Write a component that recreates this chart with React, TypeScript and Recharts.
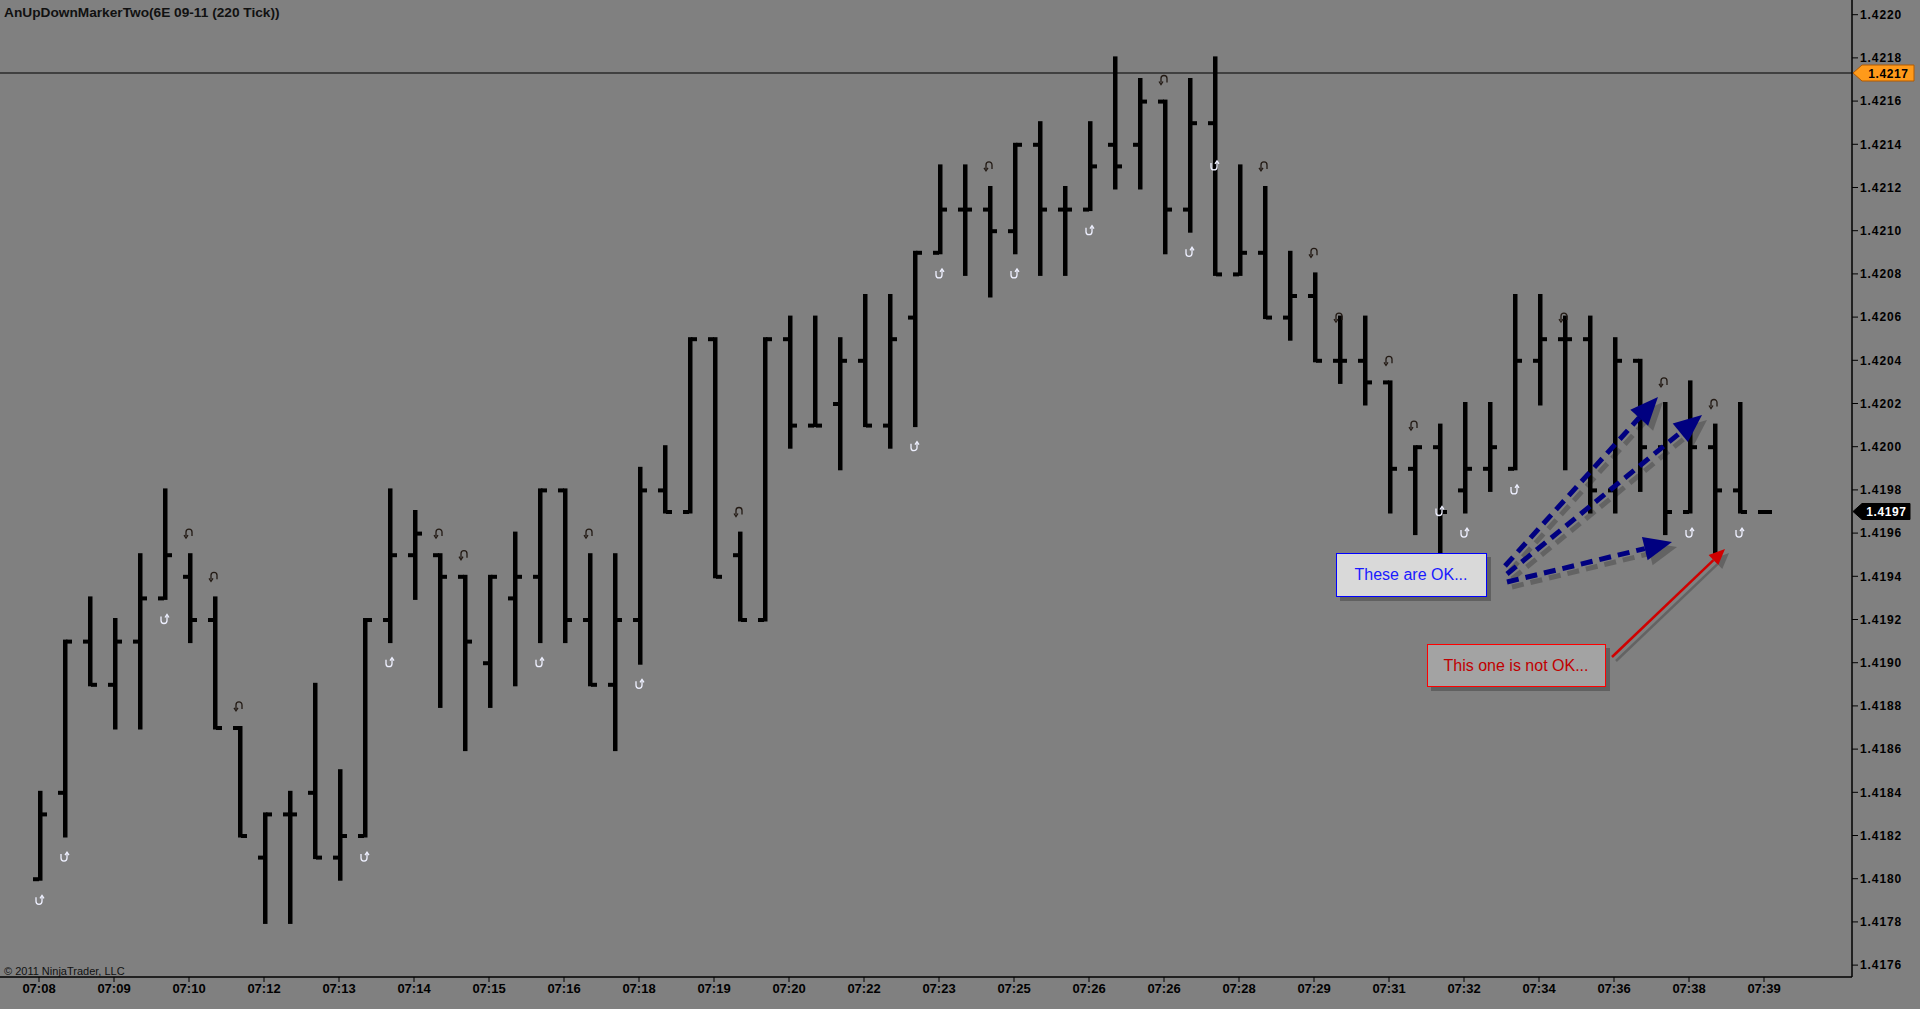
import React from "react";
import {
  ComposedChart,
  Bar,
  Scatter,
  XAxis,
  YAxis,
  ReferenceLine,
} from "recharts";

// x axis labels, one every third bar
const timeLabels = [
  "07:08", "07:09", "07:10", "07:12", "07:13", "07:14", "07:15", "07:16",
  "07:18", "07:19", "07:20", "07:22", "07:23", "07:25", "07:26", "07:26",
  "07:28", "07:29", "07:31", "07:32", "07:34", "07:36", "07:38", "07:39",
];

// 6E 09-11, 220 tick bars
const opens = [
  1.4180, 1.4184, 1.4191, 1.4189, 1.4191, 1.4193, 1.4194, 1.4192, 1.4187, 1.4181,
  1.4183, 1.4184, 1.4181, 1.4182, 1.4192, 1.4195, 1.4195, 1.4194, 1.4190, 1.4193,
  1.4194, 1.4198, 1.4192, 1.4189, 1.4192, 1.4198, 1.4197, 1.4205, 1.4195, 1.4192,
  1.4205, 1.4201, 1.4202, 1.4204, 1.4201, 1.4206, 1.4209, 1.4211, 1.4211, 1.4210,
  1.4214, 1.4211, 1.4211, 1.4214, 1.4214, 1.4216, 1.4211, 1.4215, 1.4208, 1.4209,
  1.4206, 1.4207, 1.4204, 1.4204, 1.4203, 1.4199, 1.4200, 1.4198, 1.4199, 1.4199,
  1.4204, 1.4205, 1.4205, 1.4198, 1.4204, 1.4200, 1.4197, 1.4200, 1.4198, 1.4197,
];
const highs = [
  1.4184, 1.4191, 1.4193, 1.4192, 1.4195, 1.4198, 1.4195, 1.4193, 1.4187, 1.4183,
  1.4184, 1.4189, 1.4185, 1.4192, 1.4198, 1.4197, 1.4195, 1.4194, 1.4194, 1.4196,
  1.4198, 1.4198, 1.4195, 1.4195, 1.4199, 1.4200, 1.4205, 1.4205, 1.4196, 1.4205,
  1.4206, 1.4206, 1.4205, 1.4207, 1.4207, 1.4209, 1.4213, 1.4213, 1.4212, 1.4214,
  1.4215, 1.4212, 1.4215, 1.4218, 1.4217, 1.4216, 1.4217, 1.4218, 1.4213, 1.4212,
  1.4209, 1.4208, 1.4206, 1.4206, 1.4203, 1.4200, 1.4201, 1.4202, 1.4202, 1.4207,
  1.4207, 1.4206, 1.4206, 1.4205, 1.4204, 1.4202, 1.4203, 1.4201, 1.4202, 1.4197,
];
const lows = [
  1.4180, 1.4182, 1.4189, 1.4187, 1.4187, 1.4193, 1.4191, 1.4187, 1.4182, 1.4178,
  1.4178, 1.4181, 1.4180, 1.4182, 1.4191, 1.4193, 1.4188, 1.4186, 1.4188, 1.4189,
  1.4191, 1.4191, 1.4189, 1.4186, 1.4190, 1.4197, 1.4197, 1.4194, 1.4192, 1.4192,
  1.4200, 1.4201, 1.4199, 1.4201, 1.4200, 1.4201, 1.4209, 1.4208, 1.4207, 1.4209,
  1.4208, 1.4208, 1.4211, 1.4212, 1.4212, 1.4209, 1.4210, 1.4208, 1.4208, 1.4206,
  1.4205, 1.4204, 1.4203, 1.4202, 1.4197, 1.4196, 1.4195, 1.4197, 1.4198, 1.4199,
  1.4202, 1.4199, 1.4197, 1.4197, 1.4198, 1.4196, 1.4197, 1.4195, 1.4197, 1.4197,
];
const closes = [
  1.4183, 1.4191, 1.4189, 1.4191, 1.4193, 1.4195, 1.4192, 1.4187, 1.4182, 1.4183,
  1.4183, 1.4181, 1.4182, 1.4192, 1.4195, 1.4196, 1.4194, 1.4191, 1.4194, 1.4194,
  1.4198, 1.4192, 1.4189, 1.4192, 1.4198, 1.4197, 1.4205, 1.4194, 1.4192, 1.4205,
  1.4201, 1.4201, 1.4204, 1.4201, 1.4205, 1.4209, 1.4211, 1.4211, 1.4210, 1.4214,
  1.4211, 1.4211, 1.4213, 1.4213, 1.4216, 1.4211, 1.4215, 1.4208, 1.4209, 1.4206,
  1.4207, 1.4204, 1.4204, 1.4203, 1.4199, 1.4200, 1.4197, 1.4199, 1.4200, 1.4204,
  1.4205, 1.4205, 1.4198, 1.4204, 1.4200, 1.4197, 1.4200, 1.4198, 1.4197, 1.4197,
];

// AnUpDownMarkerTwo output: [bar number (1-based), price]
const upMarkers = [
  [1, 1.4179], [2, 1.4181], [6, 1.4192], [14, 1.4181], [15, 1.4190], [21, 1.4190],
  [25, 1.4189], [36, 1.4200], [37, 1.4208], [40, 1.4208], [43, 1.4210], [47, 1.4209],
  [48, 1.4213], [57, 1.4197], [58, 1.4196], [60, 1.4198], [67, 1.4196], [69, 1.4196],
];
const downMarkers = [
  [7, 1.4196], [8, 1.4194], [9, 1.4188], [17, 1.4196], [18, 1.4195], [23, 1.4196],
  [29, 1.4197], [39, 1.4213], [46, 1.4217], [50, 1.4213], [52, 1.4209], [53, 1.4206],
  [55, 1.4204], [56, 1.4201], [62, 1.4206], [66, 1.4203], [68, 1.4202],
];

const priceTicks = [
  1.4176, 1.4178, 1.418, 1.4182, 1.4184, 1.4186, 1.4188, 1.419, 1.4192, 1.4194,
  1.4196, 1.4198, 1.42, 1.4202, 1.4204, 1.4206, 1.4208, 1.421, 1.4212, 1.4214,
  1.4216, 1.4218, 1.422,
];

const horizontalLine = 1.42173;
const lastPrice = 1.4197;

const upMap = new Map(upMarkers.map(([b, p]) => [b - 1, p]));
const downMap = new Map(downMarkers.map(([b, p]) => [b - 1, p]));

const data = opens.map((o, i) => ({
  idx: i,
  range: [lows[i], highs[i]],
  open: o,
  high: highs[i],
  low: lows[i],
  close: closes[i],
  up: upMap.has(i) ? upMap.get(i) : null,
  down: downMap.has(i) ? downMap.get(i) : null,
}));

const FONT = "'Liberation Sans', Arial, sans-serif";

const OhlcBar = (props: any) => {
  const { x, y, width, height, payload } = props;
  if (x == null || y == null || !payload) return <g />;
  const cx = Math.round(x + width / 2);
  const h = height || 0;
  const top = Math.min(y, y + h);
  const bot = Math.max(y, y + h);
  const span = payload.high - payload.low;
  if (span <= 0 || bot - top < 1) {
    // flat bar (last one, still forming)
    return <rect x={cx - 7} y={top - 1.5} width={14} height={4} fill="#000" />;
  }
  const k = (bot - top) / span;
  const yo = top + (payload.high - payload.open) * k;
  const yc = top + (payload.high - payload.close) * k;
  return (
    <g fill="#000">
      <rect x={cx - 2} y={top - 1.5} width={4.5} height={bot - top + 3.5} />
      <rect x={cx - 7} y={yo - 1.5} width={6} height={4} />
      <rect x={cx + 1} y={yc - 1.5} width={6} height={4} />
    </g>
  );
};

const UpMark = (p: any) => {
  if (!p.payload || p.payload.up == null) return <g />;
  const cx = p.cx;
  const cy = p.cy;
  return (
    <g fill="none" stroke="#eef0ff" strokeWidth={1.3}>
      <path d={`M${cx - 3},${cy - 3}V${cy + 1}A3,3 0 0 0 ${cx + 3},${cy + 1}V${cy - 4}`} />
      <path d={`M${cx + 1},${cy - 2}L${cx + 3},${cy - 5}L${cx + 5},${cy - 2}`} />
    </g>
  );
};

const DownMark = (p: any) => {
  if (!p.payload || p.payload.down == null) return <g />;
  const cx = p.cx;
  const cy = p.cy;
  return (
    <g fill="none" stroke="#231a14" strokeWidth={1.3}>
      <path d={`M${cx - 3},${cy + 3}V${cy - 1}A3,3 0 0 1 ${cx + 3},${cy - 1}V${cy + 3}`} />
      <path d={`M${cx - 5},${cy + 2}L${cx - 3},${cy + 5}L${cx - 1},${cy + 2}`} />
    </g>
  );
};

const priceTag = (text: string, fill: string, color: string, w: number) => (props: any) => {
  const vb = props.viewBox || {};
  const x = (vb.x || 0) + (vb.width || 0);
  const y = vb.y || 0;
  return (
    <g>
      <polygon
        points={`${x + 1},${y} ${x + 10},${y - 8} ${x + w},${y - 8} ${x + w},${y + 8} ${x + 10},${y + 8}`}
        fill={fill}
        stroke={fill === "#000" ? "#000" : "#b35a00"}
        strokeWidth={1}
      />
      <text
        x={x + 11 + (w - 11) / 2}
        y={y + 4.5}
        textAnchor="middle"
        fill={color}
        fontFamily={FONT}
        fontWeight="bold"
        fontSize={12}
        letterSpacing={0.6}
      >
        {text}
      </text>
    </g>
  );
};

function head(x1: number, y1: number, x2: number, y2: number, len: number, half: number) {
  const dx = x2 - x1;
  const dy = y2 - y1;
  const d = Math.hypot(dx, dy);
  const ux = dx / d;
  const uy = dy / d;
  const bx = x2 - ux * len;
  const by = y2 - uy * len;
  return {
    pts: `${x2},${y2} ${bx - uy * half},${by + ux * half} ${bx + uy * half},${by - ux * half}`,
    bx,
    by,
  };
}

const blueArrows = [
  [1505, 566, 1658, 397],
  [1507, 574, 1702, 415],
  [1507, 582, 1672, 542],
];

function Annotations() {
  const red = head(1612, 657, 1725, 549, 16, 7);
  return (
    <svg
      width={1920}
      height={1009}
      style={{ position: "absolute", left: 0, top: 0, pointerEvents: "none" }}
    >
      <text x={4} y={17} fontFamily={FONT} fontWeight="bold" fontSize={13.7} fill="#111">
        AnUpDownMarkerTwo(6E 09-11 (220 Tick))
      </text>
      <text x={4} y={975} fontFamily={FONT} fontSize={11} fill="#111">
        © 2011 NinjaTrader, LLC
      </text>

      {/* blue dashed arrows with soft shadow */}
      {blueArrows.map(([x1, y1, x2, y2], i) => {
        const hd = head(x1, y1, x2, y2, 28, 12);
        return (
          <g key={`s${i}`} transform="translate(5,5)" opacity={0.22}>
            <line x1={x1} y1={y1} x2={hd.bx} y2={hd.by} stroke="#000" strokeWidth={5} strokeDasharray="12 7" />
            <polygon points={hd.pts} fill="#000" />
          </g>
        );
      })}
      {blueArrows.map(([x1, y1, x2, y2], i) => {
        const hd = head(x1, y1, x2, y2, 28, 12);
        return (
          <g key={`a${i}`}>
            <line x1={x1} y1={y1} x2={hd.bx} y2={hd.by} stroke="#000080" strokeWidth={5} strokeDasharray="12 7" />
            <polygon points={hd.pts} fill="#000080" />
          </g>
        );
      })}

      {/* red arrow */}
      <g transform="translate(4,4)" opacity={0.22}>
        <line x1={1612} y1={657} x2={red.bx} y2={red.by} stroke="#000" strokeWidth={2.5} />
        <polygon points={red.pts} fill="#000" />
      </g>
      <line x1={1612} y1={657} x2={red.bx} y2={red.by} stroke="#d00000" strokeWidth={2.5} />
      <polygon points={red.pts} fill="#d00000" />

      {/* text boxes */}
      <rect x={1340} y={557} width={151} height={44} fill="#000" opacity={0.25} />
      <rect x={1336.5} y={553.5} width={150} height={43} fill="#d9d9d9" stroke="#0000ff" strokeWidth={1} />
      <text x={1411} y={580} textAnchor="middle" fontFamily={FONT} fontSize={16} fill="#1a1aff">
        These are OK...
      </text>

      <rect x={1431} y={648} width={179} height={43} fill="#000" opacity={0.25} />
      <rect x={1427.5} y={644.5} width={178} height={42} fill="#a3a3a3" stroke="#ff0000" strokeWidth={1} />
      <text x={1516} y={671} textAnchor="middle" fontFamily={FONT} fontSize={16} fill="#c00000">
        This one is not OK...
      </text>
    </svg>
  );
}

export default function App() {
  return (
    <div
      style={{
        position: "absolute",
        left: 0,
        top: 0,
        width: 1920,
        height: 1009,
        background: "#808080",
        overflow: "hidden",
      }}
    >
      <ComposedChart
        width={1920}
        height={1009}
        data={data}
        margin={{ top: 0, right: 0, bottom: 0, left: 0 }}
      >
        <XAxis
          dataKey="idx"
          type="category"
          interval={2}
          padding={{ left: 26.5, right: 75.5 }}
          height={32}
          tickSize={5}
          tickMargin={2}
          axisLine={{ stroke: "#000", strokeWidth: 1.5 }}
          tickLine={{ stroke: "#000" }}
          tick={{ fill: "#000", fontSize: 13, fontWeight: "bold", fontFamily: FONT }}
          tickFormatter={(v: number) => timeLabels[Math.round(v / 3)] || ""}
        />
        <YAxis
          orientation="right"
          type="number"
          domain={[1.417545, 1.422068]}
          ticks={priceTicks}
          allowDataOverflow
          width={68}
          tickSize={6}
          tickMargin={2}
          axisLine={{ stroke: "#000", strokeWidth: 1.5 }}
          tickLine={{ stroke: "#000" }}
          tick={{ fill: "#000", fontSize: 12, fontWeight: "bold", fontFamily: FONT, letterSpacing: 0.9 }}
          tickFormatter={(v: number) => v.toFixed(4)}
        />
        <ReferenceLine
          y={horizontalLine}
          stroke="#000"
          strokeWidth={1}
          ifOverflow="visible"
          label={priceTag(horizontalLine.toFixed(4), "#ff9a1a", "#000", 62)}
        />
        <ReferenceLine
          y={lastPrice}
          stroke="none"
          strokeOpacity={0}
          ifOverflow="visible"
          label={priceTag(lastPrice.toFixed(4), "#000", "#fff", 58)}
        />
        <Bar dataKey="range" barSize={20} shape={OhlcBar} isAnimationActive={false} />
        <Scatter dataKey="up" shape={UpMark} isAnimationActive={false} />
        <Scatter dataKey="down" shape={DownMark} isAnimationActive={false} />
      </ComposedChart>
      <Annotations />
    </div>
  );
}
